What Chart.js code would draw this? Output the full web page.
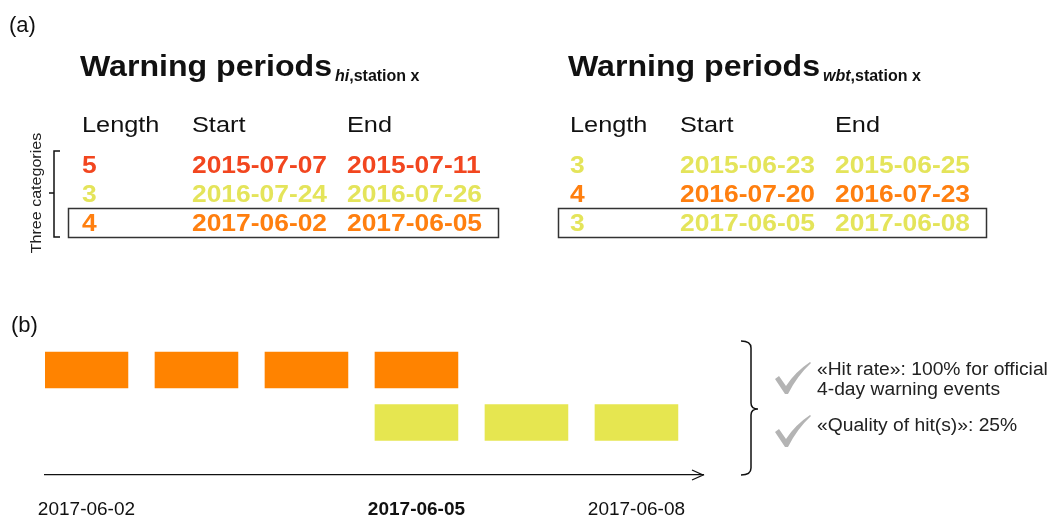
<!DOCTYPE html>
<html>
<head>
<meta charset="utf-8">
<script src="https://cdn.jsdelivr.net/npm/chart.js@4.4.1/dist/chart.umd.min.js"></script>
<style>
  body { margin: 0; background: #fff; }
  #wrap { position: relative; width: 1054px; height: 517px; overflow: hidden;
          font-family: "Liberation Sans", Arial, sans-serif; color: #111; }
  #chart { position: absolute; left: 0; top: 0; }
  .t { position: absolute; white-space: nowrap; transform-origin: 0 0; }
</style>
</head>
<body>
<div id="wrap"><canvas id="chart" width="1054" height="517"></canvas></div>
<script>
// (a) warning periods, heat index vs wet bulb temperature
const hiLength = [5, 3, 4];
const hiStart = ["2015-07-07", "2016-07-24", "2017-06-02"];
const hiEnd = ["2015-07-11", "2016-07-26", "2017-06-05"];
const wbtLength = [3, 4, 3];
const wbtStart = ["2015-06-23", "2016-07-20", "2017-06-05"];
const wbtEnd = ["2015-06-25", "2016-07-23", "2017-06-08"];

// (b) day slots of the boxed events
const hiSlots = [0, 1, 2, 3];
const wbtSlots = [3, 4, 5];
const tickSlots = [0, 3, 5];
const tickLabels = ["2017-06-02", "2017-06-05", "2017-06-08"];
const notes = ["«Hit rate»: 100% for official", "4-day warning events", "«Quality of hit(s)»: 25%"];

const lengthColor = { 5: "#f2461f", 4: "#ff7f0f", 3: "#e4e45a" };
const orange = "#ff8300";
const yellow = "#e6e650";
const halfW = 0.377; // half a bar, in day slots

const wrap = document.getElementById("wrap");

// put a text with its baseline at y
function put(html, x, y, size, opt = {}) {
  const d = document.createElement("div");
  d.className = "t";
  d.innerHTML = html;
  d.style.left = x + "px";
  d.style.top = (y - 0.8465 * size) + "px";
  d.style.fontSize = size + "px";
  d.style.lineHeight = size + "px";
  if (opt.bold) d.style.fontWeight = "bold";
  if (opt.color) d.style.color = opt.color;
  if (opt.sx) d.style.transform = "scaleX(" + opt.sx + ")";
  wrap.appendChild(d);
  return d;
}

put("(a)", 9, 33, 22);
put("(b)", 11, 333, 22);

function table(x0, sub, lengths, starts, ends) {
  put("Warning periods", x0 - 2, 76, 30, { bold: true, sx: 1.07 });
  put(sub, x0 + 253, 82, 16, { bold: true });
  put("Length", x0, 133, 22, { sx: 1.15 });
  put("Start", x0 + 110, 133, 22, { sx: 1.15 });
  put("End", x0 + 265, 133, 22, { sx: 1.15 });
  lengths.forEach((len, i) => {
    const y = 173 + i * 29;
    const c = lengthColor[len];
    put(String(len), x0, y, 24, { bold: true, color: c, sx: 1.1 });
    put(starts[i], x0 + 110, y, 24, { bold: true, color: c, sx: 1.1 });
    put(ends[i], x0 + 265, y, 24, { bold: true, color: c, sx: 1.1 });
  });
}
table(82, "<i>hi</i>,station x", hiLength, hiStart, hiEnd);
table(570, "<i>wbt</i>,station x", wbtLength, wbtStart, wbtEnd);

const cat = put("Three categories", 0, 0, 15, { color: "#222" });
cat.style.left = "35px";
cat.style.top = "193px";
cat.style.transformOrigin = "50% 50%";
cat.style.transform = "translate(-50%, -50%) rotate(-90deg) scaleX(1.07)";

put(notes[0], 817, 375, 18, { sx: 1.07, color: "#222" });
put(notes[1], 817, 395, 18, { sx: 1.07, color: "#222" });
put(notes[2], 817, 431, 18, { sx: 1.07, color: "#222" });

function check(ctx, x, y) {
  ctx.beginPath();
  ctx.moveTo(x, y + 17);
  ctx.lineTo(x + 4, y + 14);
  ctx.lineTo(x + 11, y + 24);
  ctx.quadraticCurveTo(x + 20, y + 10, x + 35, y);
  ctx.lineTo(x + 36, y + 1);
  ctx.quadraticCurveTo(x + 22, y + 14, x + 13, y + 32);
  ctx.lineTo(x + 10, y + 32);
  ctx.closePath();
  ctx.fill();
}

const decor = {
  id: "decor",
  afterDraw(chart) {
    const ctx = chart.ctx;
    const a = chart.chartArea;
    ctx.save();
    ctx.strokeStyle = "#111";
    ctx.lineWidth = 1.3;
    // arrow head
    ctx.beginPath();
    ctx.moveTo(a.right - 11, a.bottom - 5);
    ctx.lineTo(a.right, a.bottom);
    ctx.lineTo(a.right - 11, a.bottom + 5);
    ctx.stroke();
    // boxes round the compared events
    ctx.strokeStyle = "#333";
    ctx.lineWidth = 1.5;
    ctx.strokeRect(68.5, 208.5, 430, 29);
    ctx.strokeRect(558.5, 208.5, 428, 29);
    // left bracket
    ctx.strokeStyle = "#111";
    ctx.beginPath();
    ctx.moveTo(60, 151);
    ctx.lineTo(54, 151);
    ctx.lineTo(54, 237);
    ctx.lineTo(60, 237);
    ctx.moveTo(54, 193);
    ctx.lineTo(49, 193);
    ctx.stroke();
    // right brace
    ctx.beginPath();
    ctx.moveTo(741, 341);
    ctx.quadraticCurveTo(751, 341, 751, 348);
    ctx.lineTo(751, 403);
    ctx.quadraticCurveTo(751, 409, 758, 409);
    ctx.quadraticCurveTo(751, 409, 751, 415);
    ctx.lineTo(751, 468);
    ctx.quadraticCurveTo(751, 475, 741, 475);
    ctx.stroke();
    ctx.fillStyle = "#b4b4b4";
    check(ctx, 775, 362);
    check(ctx, 775, 415);
    ctx.restore();
  },
};

new Chart("chart", {
  type: "bar",
  data: {
    datasets: [
      {
        label: "hi",
        data: hiSlots.map((s) => ({ x: [s - halfW, s + halfW], y: 0 })),
        backgroundColor: orange,
        stack: "row",
        barThickness: 36,
      },
      {
        label: "wbt",
        data: wbtSlots.map((s) => ({ x: [s - halfW, s + halfW], y: 1 })),
        backgroundColor: yellow,
        stack: "row",
        barThickness: 36,
      },
    ],
  },
  options: {
    indexAxis: "y",
    responsive: false,
    animation: false,
    layout: { padding: { left: 45, right: 351, top: 343.75, bottom: 0 } },
    plugins: { legend: { display: false }, tooltip: { enabled: false } },
    scales: {
      x: {
        type: "linear",
        min: -halfW,
        max: 5.605,
        grid: { display: false, drawTicks: false },
        border: { color: "#111", width: 1.3 },
        afterBuildTicks: (s) => {
          s.ticks = tickSlots.map((v) => ({ value: v }));
        },
        afterFit: (s) => {
          s.height = 42;
        },
        ticks: {
          callback: (v, i) => tickLabels[i],
          autoSkip: false,
          maxRotation: 0,
          padding: 23,
          color: "#111",
          font: (c) => ({
            family: "'Liberation Sans', Arial, sans-serif",
            size: 19,
            weight: c.index === 1 ? "bold" : "normal",
          }),
        },
      },
      y: {
        type: "linear",
        min: -0.5,
        max: 2,
        reverse: true,
        stacked: true,
        offset: false,
        display: false,
      },
    },
  },
  plugins: [decor],
});
</script>
</body>
</html>
